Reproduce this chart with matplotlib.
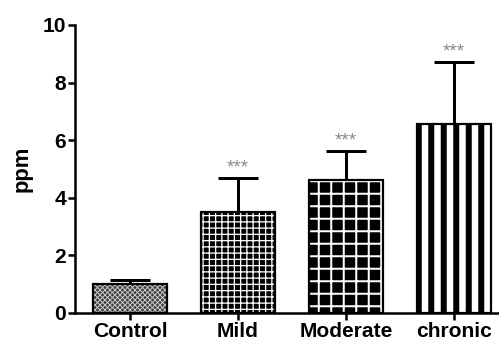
import matplotlib
matplotlib.use("Agg")
import matplotlib.pyplot as plt
import numpy as np

groups = ["Control", "Mild", "Moderate", "chronic"]
means = [1.02, 3.52, 4.62, 6.56]
sems = [0.13, 1.17, 1.01, 2.16]
stars = ["", "***", "***", "***"]

DPI = 75


def pt(px):
    # pixels -> points at this dpi
    return px * 72.0 / DPI


plt.rcParams["font.family"] = ["Liberation Sans", "DejaVu Sans"]
plt.rcParams["font.weight"] = "bold"

fig = plt.figure(figsize=(499 / DPI, 344 / DPI), dpi=DPI)
ax = fig.add_axes([75 / 499, 31 / 344, 1 - 75 / 499, (313 - 25) / 344])

# fill style per bar: face, hatch, hatch colour, hatch linewidth (px)
styles = [
    ("#3a3a3a", "xxxxx", "#c8c8c8", 1.0),
    ("black", "++", "white", 1.3),
    ("black", "+", "white", 2.0),
    ("white", "|", "black", 6.0),
]

x = np.arange(len(groups))
w = 0.68
for i, (fc, h, hc, hlw) in enumerate(styles):
    with plt.rc_context({"hatch.linewidth": pt(hlw)}):
        b = ax.bar(x[i], means[i], width=w, color=fc, hatch=h,
                   edgecolor=hc, linewidth=0, zorder=2)
    for p in b:
        if hasattr(p, "set_hatch_linewidth"):
            p.set_hatch_linewidth(pt(hlw))
    ax.bar(x[i], means[i], width=w, fill=False, edgecolor="black",
           linewidth=pt(2.2), zorder=3)

ax.errorbar(x, means, yerr=[np.zeros(len(sems)), sems], fmt="none",
            ecolor="black", elinewidth=pt(3), capsize=pt(20),
            capthick=pt(3), zorder=1)

for i, s in enumerate(stars):
    if s:
        ax.text(x[i], means[i] + sems[i] + 0.05, s, ha="center", va="bottom",
                color="#8a8a8a", fontsize=pt(19), fontweight="normal")

ax.set_xlim(-0.509, 3.417)
ax.set_ylim(0, 10)
ax.set_yticks([0, 2, 4, 6, 8, 10])
ax.set_xticks(x)
ax.set_xticklabels(groups)
ax.set_ylabel("ppm", fontsize=pt(22), fontweight="bold")
ax.yaxis.set_label_coords(-0.101, 0.5)

for side in ["top", "right"]:
    ax.spines[side].set_visible(False)
for side in ["left", "bottom"]:
    ax.spines[side].set_linewidth(pt(2.5))
ax.tick_params(axis="both", width=pt(2.5), length=pt(7), labelsize=pt(21),
               pad=pt(2))

fig.savefig("out.png", dpi=DPI)
